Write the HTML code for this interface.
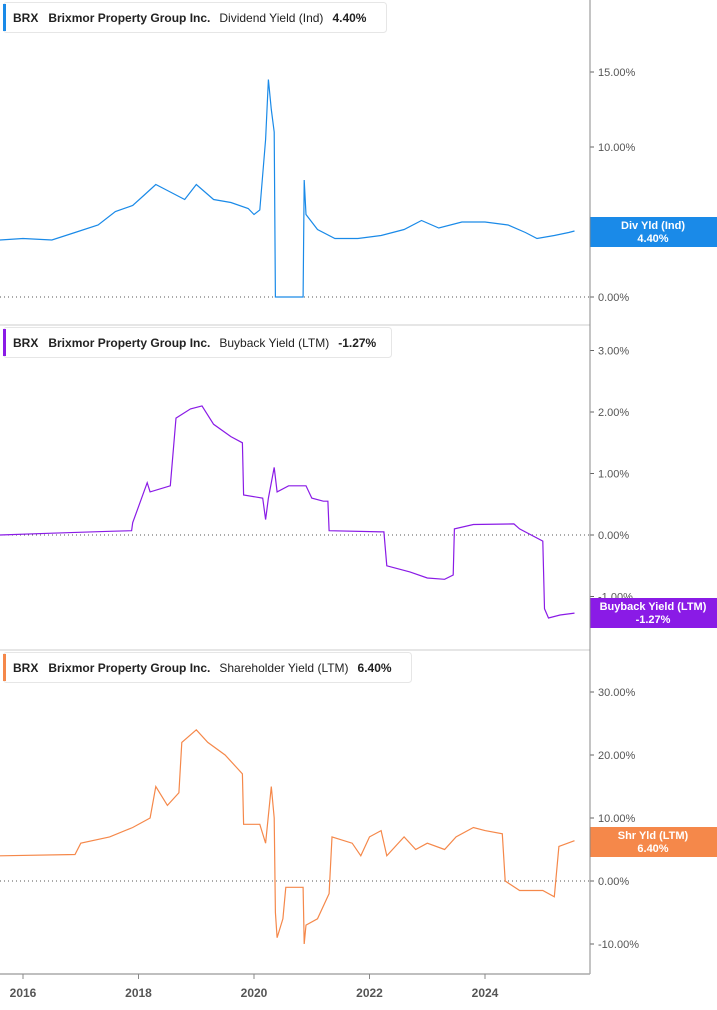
<!DOCTYPE html>
<html><head><meta charset="utf-8"><style>
body{margin:0;background:#fff;font-family:"Liberation Sans",Arial,sans-serif;}
svg text{font-family:"Liberation Sans",Arial,sans-serif;}
</style></head><body>
<svg id="c" width="717" height="1005" xmlns="http://www.w3.org/2000/svg"></svg>
<script>
const years=[2016,2018,2020,2022,2024];
const divT=[2015.6,2016.0,2016.5,2016.9,2017.3,2017.6,2017.9,2018.1,2018.3,2018.5,2018.8,2019.0,2019.3,2019.6,2019.9,2020.0,2020.1,2020.2,2020.25,2020.3,2020.35,2020.37,2020.85,2020.87,2020.9,2021.1,2021.4,2021.8,2022.2,2022.6,2022.9,2023.2,2023.6,2024.0,2024.4,2024.7,2024.9,2025.2,2025.45,2025.55];
const divV=[3.8,3.9,3.8,4.3,4.8,5.7,6.1,6.8,7.5,7.1,6.5,7.5,6.5,6.3,5.9,5.5,5.8,10.5,14.5,12.5,11,0,0,7.8,5.5,4.5,3.9,3.9,4.1,4.5,5.1,4.6,5.0,5.0,4.8,4.3,3.9,4.1,4.3,4.4];
const bbT=[2015.6,2016.5,2017.5,2017.88,2017.9,2018.15,2018.2,2018.55,2018.65,2018.9,2019.1,2019.3,2019.6,2019.8,2019.82,2020.15,2020.2,2020.25,2020.35,2020.4,2020.6,2020.9,2021.0,2021.2,2021.28,2021.3,2022.25,2022.3,2022.7,2023.0,2023.3,2023.45,2023.47,2023.8,2024.5,2024.6,2025.0,2025.03,2025.1,2025.3,2025.55];
const bbV=[0.0,0.03,0.06,0.07,0.2,0.85,0.7,0.8,1.9,2.05,2.1,1.8,1.6,1.5,0.65,0.6,0.25,0.6,1.1,0.7,0.8,0.8,0.6,0.55,0.55,0.07,0.05,-0.5,-0.6,-0.7,-0.72,-0.65,0.1,0.17,0.18,0.1,-0.1,-1.2,-1.35,-1.3,-1.27];
const shT=[2015.6,2016.9,2017.0,2017.5,2017.9,2018.2,2018.3,2018.5,2018.7,2018.75,2019.0,2019.2,2019.5,2019.7,2019.8,2019.82,2020.1,2020.2,2020.3,2020.35,2020.37,2020.4,2020.5,2020.55,2020.85,2020.87,2020.9,2021.1,2021.3,2021.35,2021.7,2021.85,2022.0,2022.2,2022.3,2022.6,2022.8,2023.0,2023.3,2023.5,2023.8,2024.0,2024.3,2024.35,2024.6,2025.0,2025.2,2025.28,2025.55];
const shV=[4,4.2,6,7,8.5,10,15,12,14,22,24,22,20,18,17,9,9,6,15,10,-5,-9,-6,-1,-1,-10,-7,-6,-2,7,6,4,7,8,4,7,5,6,5,7,8.5,8,7.5,0,-1.5,-1.5,-2.5,5.5,6.4];
const divTicks=[0,5,10,15], bbTicks=[-1,0,1,2,3], shTicks=[-10,0,10,20,30];

const svg=document.getElementById('c');const NS='http://www.w3.org/2000/svg';
function mk(t,a,p){const e=document.createElementNS(NS,t);for(const k in a)e.setAttribute(k,a[k]);(p||svg).appendChild(e);return e;}
const X=t=>23+(t-2016)*57.75;
const panels=[
 {T:divT,V:divV,ticks:divTicks,y0:297,k:15,col:'#1a8ae8',name:'dividend-yield',title:'Dividend Yield (Ind)',val:'4.40%',lab:'Div Yld (Ind)',top:2,w:383,by:217},
 {T:bbT,V:bbV,ticks:bbTicks,y0:535,k:61.5,col:'#8a1be6',name:'buyback-yield',title:'Buyback Yield (LTM)',val:'-1.27%',lab:'Buyback Yield (LTM)',top:327,w:388,by:598},
 {T:shT,V:shV,ticks:shTicks,y0:881,k:6.3,col:'#f5884a',name:'shareholder-yield',title:'Shareholder Yield (LTM)',val:'6.40%',lab:'Shr Yld (LTM)',top:652,w:408,by:827}];
mk('line',{x1:0,y1:325,x2:590,y2:325,stroke:'#ccc'});
mk('line',{x1:0,y1:650,x2:590,y2:650,stroke:'#ccc'});
panels.forEach(p=>{
 const Y=v=>p.y0-v*p.k;
 p.ticks.forEach(t=>{
  const y=Y(t);
  if(t===0){const l=mk('line',{x1:0,y1:y,x2:590,y2:y,stroke:'#555','stroke-dasharray':'1,3'});}
  mk('line',{x1:590,y1:y,x2:594,y2:y,stroke:'#666'});
  const tx=mk('text',{x:598,y:y+4,'font-size':11,fill:'#555'});tx.textContent=t.toFixed(2)+'%';
  
  
 });
 let d='';p.T.forEach((t,i)=>{d+=(i?'L':'M')+X(t).toFixed(1)+','+Y(p.V[i]).toFixed(1);});
 const path=mk('path',{d:d,fill:'none',stroke:p.col,'stroke-width':1.2});
 
 
 // legend
 const g=mk('g',{});
 
 
 mk('rect',{x:3.5,y:p.top+0.5,width:p.w,height:30,rx:3,fill:'#fff',stroke:'#e6e6e6'},g);
 mk('rect',{x:3,y:p.top+2,width:3,height:27,fill:p.col},g);
 const t=mk('text',{x:13,y:p.top+20,'font-size':12,'font-weight':'bold',fill:'#222'},g);
 t.innerHTML='BRX<tspan dx="10">Brixmor Property Group Inc.</tspan><tspan dx="9" font-weight="normal">'+p.title+'</tspan><tspan dx="9">'+p.val+'</tspan>';
 // value box
 const b=mk('g',{});
 
 
 mk('rect',{x:590,y:p.by,width:127,height:30,fill:p.col},b);
 const l1=mk('text',{x:653,y:p.by+12,'font-size':11,'font-weight':'bold',fill:'#fff','text-anchor':'middle'},b);l1.textContent=p.lab;
 const l2=mk('text',{x:653,y:p.by+25,'font-size':11,'font-weight':'bold',fill:'#fff','text-anchor':'middle'},b);l2.textContent=p.val;
});
mk('line',{x1:590,y1:0,x2:590,y2:974,stroke:'#888'});
mk('line',{x1:0,y1:974,x2:590,y2:974,stroke:'#aaa','stroke-width':1.5});
years.forEach(yr=>{
 mk('line',{x1:X(yr),y1:974,x2:X(yr),y2:979,stroke:'#888'});
 const t=mk('text',{x:X(yr),y:997,'font-size':12,'font-weight':'bold',fill:'#555','text-anchor':'middle'});t.textContent=yr;
 
 
});
</script>
</body></html>
